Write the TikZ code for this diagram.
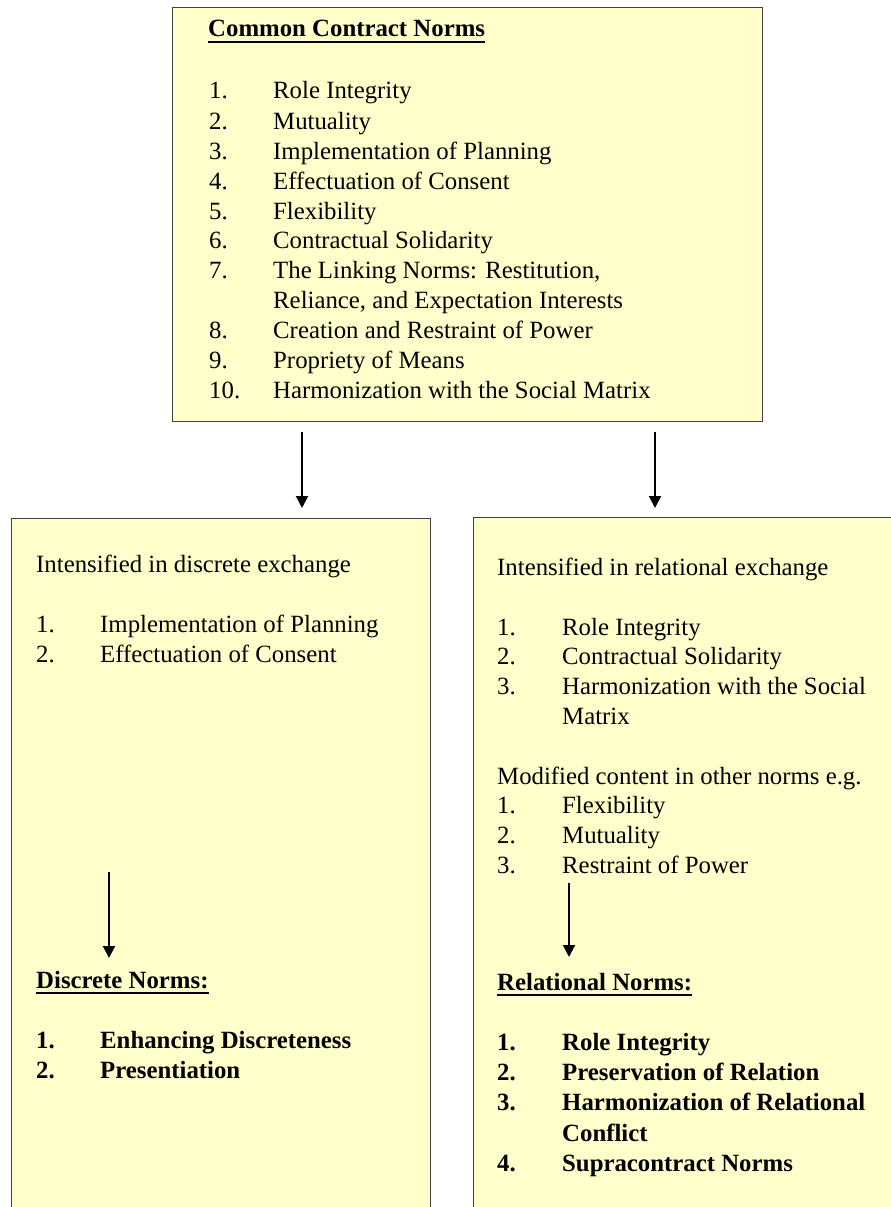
\documentclass[tikz,border=0pt]{standalone}
\usepackage{fontspec}
\setmainfont{Liberation Serif}
\usetikzlibrary{arrows.meta}
\newcommand\fsz{\fontsize{24.8}{30}\selectfont}
\definecolor{boxfill}{HTML}{FFFFCC}
\tikzset{
  box/.style={draw=black!75, line width=1.4pt, fill=boxfill, rectangle, inner sep=0pt, anchor=north west},
  txt/.style={anchor=base west, inner sep=0pt, font=\fsz},
  btxt/.style={anchor=base west, inner sep=0pt, font=\fsz\bfseries},
  arr/.style={line width=2pt, -{Triangle[width=12pt,length=12pt]}},
  ul/.style={line width=2.4pt}
}
\begin{document}
\begin{tikzpicture}[x=1pt,y=-1pt]
\useasboundingbox (0,0) rectangle (891,1207);
\clip (0,0) rectangle (891,1207);
% boxes
\node[box, minimum width=590pt, minimum height=414pt] (top) at (172,7) {};
\node[box, minimum width=419pt, minimum height=740pt] (left) at (11,518) {};
\node[box, minimum width=480pt, minimum height=740pt] (right) at (473,517) {};
% top box text
\node[btxt] (title) at (208,37) {Common Contract Norms};
\draw[ul] ([yshift=-5pt]title.base west) -- ([yshift=-5pt]title.base east);
\foreach \n/\t/\y [count=\i] in {
  1./Role Integrity/99,
  2./Mutuality/129,
  3./Implementation of Planning/159,
  4./Effectuation of Consent/189,
  5./Flexibility/219,
  6./Contractual Solidarity/248,
  7./{The Linking Norms: Restitution,}/278,
  /{Reliance, and Expectation Interests}/308,
  8./Creation and Restraint of Power/338,
  9./Propriety of Means/368,
  10./Harmonization with the Social Matrix/398}{
  \node[txt] (tn\i) at (209,\y) {\n};
  \node[txt] (tt\i) at (273,\y) {\t};
}
% arrows from top box
\coordinate (a1s) at (302,432); \coordinate (a1e) at (302,508);
\coordinate (a2s) at (655,432); \coordinate (a2e) at (655,508);
\draw[arr] (a1s) -- (a1e);
\draw[arr] (a2s) -- (a2e);
% left box text
\node[txt] (lhead) at (36,572) {Intensified in discrete exchange};
\node[txt] (ln1) at (36,632) {1.};
\node[txt] (lt1) at (100,632) {Implementation of Planning};
\node[txt] (ln2) at (36,662) {2.};
\node[txt] (lt2) at (100,662) {Effectuation of Consent};
\coordinate (a3s) at (109,872); \coordinate (a3e) at (109,958);
\draw[arr] (a3s) -- (a3e);
\node[btxt] (dtitle) at (36,988) {Discrete Norms:};
\draw[ul] ([yshift=-5pt]dtitle.base west) -- ([yshift=-5pt]dtitle.base east);
\node[btxt] (dn1) at (36,1048) {1.};
\node[btxt] (dt1) at (100,1048) {Enhancing Discreteness};
\node[btxt] (dn2) at (36,1078) {2.};
\node[btxt] (dt2) at (100,1078) {Presentiation};
% right box text
\node[txt] (rhead) at (497,575) {Intensified in relational exchange};
\node[txt] (rn1) at (497,635) {1.};
\node[txt] (rt1) at (562,635) {Role Integrity};
\node[txt] (rn2) at (497,664) {2.};
\node[txt] (rt2) at (562,664) {Contractual Solidarity};
\node[txt] (rn3) at (497,694) {3.};
\node[txt] (rt3) at (562,694) {Harmonization with the Social};
\node[txt] (rt3b) at (562,724) {Matrix};
\node[txt] (mhead) at (497,784) {Modified content in other norms e.g.};
\node[txt] (mn1) at (497,813) {1.};
\node[txt] (mt1) at (562,813) {Flexibility};
\node[txt] (mn2) at (497,843) {2.};
\node[txt] (mt2) at (562,843) {Mutuality};
\node[txt] (mn3) at (497,873) {3.};
\node[txt] (mt3) at (562,873) {Restraint of Power};
\coordinate (a4s) at (569,883); \coordinate (a4e) at (569,957);
\draw[arr] (a4s) -- (a4e);
\node[btxt] (rtitle) at (497,990) {Relational Norms:};
\draw[ul] ([yshift=-5pt]rtitle.base west) -- ([yshift=-5pt]rtitle.base east);
\node[btxt] (bn1) at (497,1050) {1.};
\node[btxt] (bt1) at (562,1050) {Role Integrity};
\node[btxt] (bn2) at (497,1080) {2.};
\node[btxt] (bt2) at (562,1080) {Preservation of Relation};
\node[btxt] (bn3) at (497,1110) {3.};
\node[btxt] (bt3) at (562,1110) {Harmonization of Relational};
\node[btxt] (bt3b) at (562,1141) {Conflict};
\node[btxt] (bn4) at (497,1171) {4.};
\node[btxt] (bt4) at (562,1171) {Supracontract Norms};
\end{tikzpicture}
\end{document}
